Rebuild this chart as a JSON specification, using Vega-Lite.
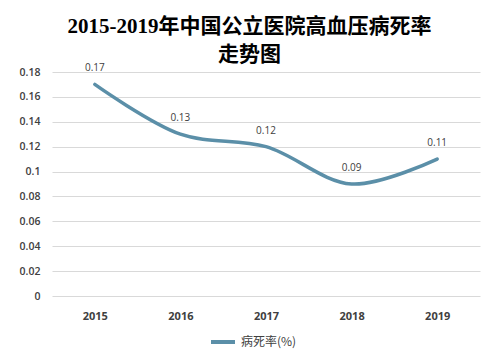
{
  "$schema": "https://vega.github.io/schema/vega-lite/v6.json",
  "width": 428,
  "height": 224,
  "padding": {"left": 19, "top": 16, "right": 16, "bottom": 5},
  "background": "white",
  "title": {
    "text": ["2015-2019年中国公立医院高血压病死率", "走势图"],
    "font": "Liberation Serif, Noto Sans CJK SC",
    "fontSize": 21,
    "fontWeight": "bold",
    "color": "#000000",
    "anchor": "middle",
    "frame": "bounds",
    "lineHeight": 28,
    "offset": -2
  },
  "data": {
    "values": [
      {"year": "2015", "rate": 0.17, "series": "病死率(%)"},
      {"year": "2016", "rate": 0.13, "series": "病死率(%)"},
      {"year": "2017", "rate": 0.12, "series": "病死率(%)"},
      {"year": "2018", "rate": 0.09, "series": "病死率(%)"},
      {"year": "2019", "rate": 0.11, "series": "病死率(%)"}
    ]
  },
  "encoding": {
    "x": {
      "field": "year",
      "type": "ordinal",
      "scale": {"type": "point", "padding": 0.5},
      "axis": {
        "title": null,
        "labelAngle": 0,
        "labelFont": "Open Sans",
        "labelFontSize": 11,
        "labelFontWeight": "bold",
        "labelColor": "#404040",
        "labelPadding": 14,
        "domain": false,
        "ticks": false,
        "grid": false
      }
    },
    "y": {
      "field": "rate",
      "type": "quantitative",
      "scale": {"domain": [0, 0.18], "nice": false},
      "axis": {
        "title": null,
        "values": [0, 0.02, 0.04, 0.06, 0.08, 0.1, 0.12, 0.14, 0.16, 0.18],
        "format": ".2~f",
        "labelFont": "Open Sans",
        "labelFontSize": 10.5,
        "labelFontWeight": 600,
        "labelColor": "#404040",
        "labelPadding": 12,
        "domain": false,
        "ticks": false,
        "grid": true,
        "gridColor": "#d9d9d9",
        "gridWidth": 1
      }
    }
  },
  "layer": [
    {
      "mark": {"type": "line", "interpolate": "catmull-rom", "strokeWidth": 3.5, "strokeCap": "round"},
      "encoding": {
        "color": {
          "field": "series",
          "type": "nominal",
          "scale": {"range": ["#5b8fa8"]},
          "legend": {
            "title": null,
            "orient": "none",
            "legendX": 157,
            "legendY": 256,
            "symbolType": "stroke",
            "symbolStrokeWidth": 4,
            "symbolSize": 576,
            "labelFont": "Noto Sans CJK SC",
            "labelFontSize": 12,
            "labelColor": "#404040"
          }
        }
      }
    },
    {
      "mark": {"type": "text", "dy": -16, "font": "Open Sans", "fontSize": 10, "color": "#404040"},
      "encoding": {
        "text": {"field": "rate", "type": "quantitative", "format": ".2~f"}
      }
    }
  ],
  "config": {
    "view": {"stroke": null}
  }
}
